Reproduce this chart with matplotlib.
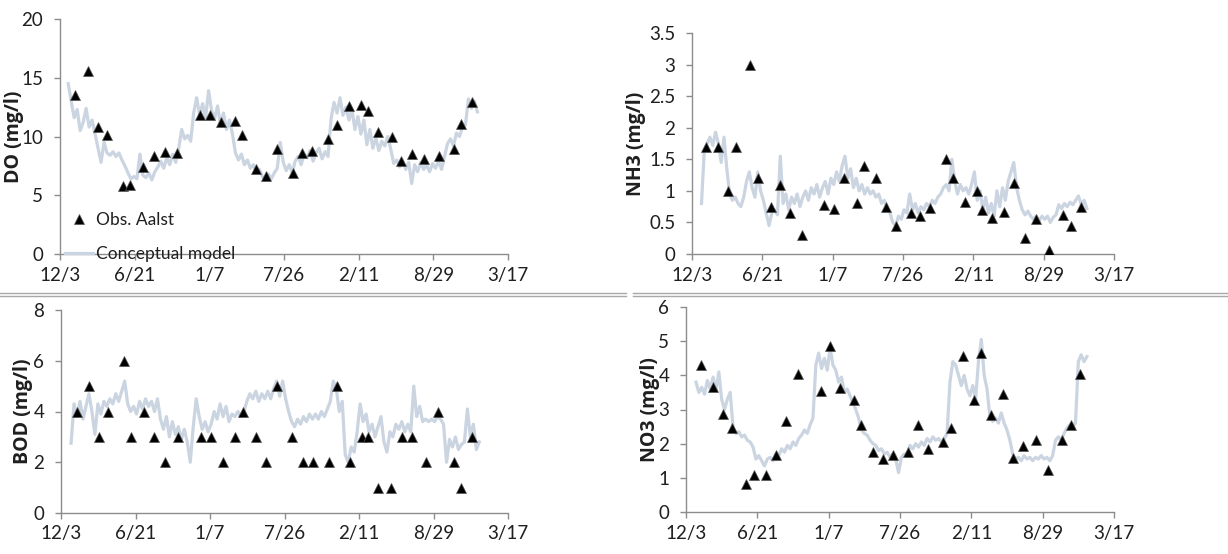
import matplotlib
matplotlib.use("Agg")
import matplotlib.pyplot as plt
from matplotlib.lines import Line2D
import numpy as np
import pandas as pd

plt.rcParams['font.family'] = ['Lato', 'DejaVu Sans']

# ---- time axis -------------------------------------------------------------
START = pd.Timestamp("2005-12-03")
END = pd.Timestamp("2009-03-17")
TICK_STEP_DAYS = 200
MODEL_STEP_DAYS = 8

# ---- DO ---------------------------------------------------------------------
do_obs_days = [41, 76, 103, 125, 168, 187, 223, 252, 280, 314, 375, 402, 432, 469,
               488, 524, 551, 580, 623, 648, 674, 718, 741, 774, 807, 825, 852, 888,
               914, 944, 975, 1014, 1055, 1075, 1103]
do_obs = [13.5, 15.6, 10.8, 10.1, 5.8, 5.9, 7.4, 8.3, 8.7, 8.6, 11.8, 11.8, 11.2, 11.3,
          10.1, 7.2, 6.6, 8.9, 6.9, 8.6, 8.8, 9.8, 11.0, 12.6, 12.7, 12.2, 10.4, 10.0,
          7.9, 8.5, 8.1, 8.3, 8.9, 11.1, 12.9]
do_model_start = 22
do_model = [14.5, 13.0, 11.6, 12.3, 10.5, 11.2, 12.4, 10.8, 11.4, 10.2,
            9.0, 7.8, 9.5, 8.6, 8.4, 8.7, 8.3, 8.6, 8.0, 7.5,
            6.9, 6.4, 6.6, 6.4, 8.5, 6.7, 6.5, 6.9, 6.3, 7.0,
            7.4, 7.9, 7.3, 8.2, 7.6, 8.5, 7.8, 9.0, 10.6, 9.8,
            10.1, 9.6, 12.0, 13.3, 11.8, 12.8, 11.6, 13.9, 12.2, 11.5,
            12.6, 11.0, 12.0, 10.6, 11.4, 10.2, 8.6, 8.0, 8.5, 7.6,
            8.0, 7.3, 7.6, 7.0, 7.2, 6.6, 6.3, 6.8, 6.4, 6.9,
            7.3, 9.5, 7.8, 7.1, 7.6, 6.9, 7.9, 8.3, 7.6, 8.5,
            8.2, 8.8, 7.9, 8.6, 9.0, 8.1, 8.7, 8.3, 11.5, 12.9,
            12.0, 13.3, 11.8, 12.5, 11.4, 12.3, 10.6, 11.7, 10.2, 11.4,
            9.3, 10.6, 9.0, 9.9, 8.8, 9.6, 9.2, 10.0, 8.9, 7.7,
            8.0, 7.4, 7.9, 7.2, 7.8, 6.0, 7.6, 7.0, 7.8, 7.2,
            7.6, 7.0, 7.7, 7.3, 7.9, 7.2, 8.3, 9.4, 9.8, 9.2,
            10.3, 10.0, 10.8, 11.0, 13.2, 12.4, 13.0, 12.1]

# ---- NH3 --------------------------------------------------------------------
nh3_obs_days = [39, 74, 102, 126, 166, 187, 224, 249, 279, 312, 376, 404, 433, 469,
                489, 523, 551, 580, 623, 649, 678, 722, 741, 775, 810, 825, 854, 888,
                915, 946, 978, 1014, 1056, 1078, 1106]
nh3_obs = [1.7, 1.7, 1.0, 1.7, 3.0, 1.2, 0.75, 1.1, 0.65, 0.3, 0.78, 0.72, 1.2, 0.8,
           1.4, 1.2, 0.75, 0.45, 0.65, 0.6, 0.73, 1.5, 1.2, 0.82, 1.0, 0.7, 0.57, 0.67,
           1.13, 0.26, 0.56, 0.07, 0.61, 0.44, 0.74]
nh3_model_start = 27
nh3_model = [0.80, 1.65, 1.75, 1.85, 1.72, 1.93, 1.75, 1.45, 1.85, 1.35,
             0.95, 0.85, 0.90, 0.80, 0.75, 0.90, 1.15, 1.30, 1.05, 0.90,
             1.30, 1.00, 0.85, 0.65, 0.45, 0.65, 0.70, 0.62, 1.55, 0.80,
             0.95, 0.70, 0.90, 0.80, 0.95, 0.75, 0.90, 1.00, 0.85, 1.05,
             0.95, 1.10, 0.90, 1.05, 1.15, 0.95, 1.20, 1.10, 1.30, 1.15,
             1.40, 1.55, 1.20, 1.35, 1.05, 1.20, 1.00, 1.10, 0.95, 1.05,
             0.95, 1.00, 0.90, 0.95, 0.80, 0.85, 0.72, 0.65, 0.50, 0.45,
             0.60, 0.55, 0.70, 0.65, 0.95, 0.70, 0.80, 0.65, 0.75, 0.70,
             0.80, 0.75, 0.85, 0.80, 0.90, 0.95, 1.05, 1.10, 1.00, 1.50,
             1.15, 0.95, 1.10, 1.00, 1.05, 0.95, 1.10, 1.30, 0.85, 1.00,
             0.70, 0.90, 0.65, 0.80, 0.60, 1.00, 0.75, 1.05, 0.85, 1.15,
             1.30, 1.45, 1.05, 0.85, 0.70, 0.62, 0.68, 0.60, 0.55, 0.60,
             0.52, 0.60, 0.55, 0.60, 0.50, 0.58, 0.62, 0.78, 0.72, 0.80,
             0.75, 0.82, 0.78, 0.85, 0.92, 0.78, 0.85, 0.72]

# ---- BOD --------------------------------------------------------------------
bod_obs_days = [42, 75, 102, 125, 169, 189, 224, 249, 278, 315, 376, 404, 434, 468,
                489, 523, 550, 579, 621, 650, 677, 720, 740, 775, 807, 824, 851, 887,
                916, 942, 979, 1013, 1054, 1075, 1103]
bod_obs = [4, 5, 3, 4, 6, 3, 4, 3, 2, 3, 3, 3, 2, 3,
           4, 3, 2, 5, 3, 2, 2, 2, 5, 2, 3, 3, 1, 1,
           3, 3, 2, 4, 2, 1, 3]
bod_model_start = 27
bod_model = [2.75, 4.30, 3.80, 4.40, 3.70, 4.20, 4.70, 4.00, 3.10, 4.30,
             3.90, 4.40, 4.20, 4.50, 4.30, 4.70, 4.40, 4.80, 5.20, 4.30,
             4.00, 4.20, 3.90, 4.40, 4.10, 4.50, 4.20, 4.40, 4.00, 4.50,
             3.70, 3.30, 3.80, 3.00, 3.60, 3.10, 3.40, 2.90, 3.30, 2.80,
             2.00, 3.40, 4.50, 3.80, 3.30, 3.60, 3.20, 3.50, 4.00, 3.70,
             4.30, 3.80, 4.20, 3.60, 3.90, 3.80, 4.00, 3.80, 4.00, 4.40,
             4.70, 4.50, 4.80, 4.40, 4.70, 4.50, 4.80, 4.50, 4.90, 5.20,
             4.60, 5.20, 4.50, 4.00, 3.60, 3.40, 3.70, 3.50, 3.80, 3.60,
             3.90, 3.70, 3.90, 3.70, 4.00, 3.80, 4.10, 4.40, 5.20, 4.90,
             4.00, 4.40, 2.30, 2.00, 2.60, 2.40, 3.20, 4.30, 3.60, 3.90,
             3.20, 3.50, 3.00, 3.40, 3.80, 2.80, 2.40, 3.20, 3.00, 3.50,
             3.30, 3.60, 3.20, 3.50, 3.20, 5.00, 3.80, 4.20, 3.60, 3.70,
             3.60, 3.70, 3.60, 3.80, 3.70, 3.50, 2.00, 2.90, 2.60, 3.00,
             2.50, 2.70, 2.80, 4.10, 3.00, 3.50, 2.50, 2.80]

# ---- NO3 --------------------------------------------------------------------
no3_obs_days = [42, 77, 105, 128, 167, 192, 223, 251, 280, 315, 379, 405, 433, 470,
                490, 523, 553, 581, 623, 651, 679, 721, 742, 776, 808, 826, 855, 890,
                918, 946, 980, 1014, 1055, 1079, 1105]
no3_obs = [4.3, 3.65, 2.87, 2.45, 0.83, 1.07, 1.07, 1.66, 2.65, 4.05, 3.55, 4.85, 3.63, 3.29,
           2.54, 1.76, 1.55, 1.66, 1.76, 2.55, 1.84, 2.06, 2.45, 4.58, 3.27, 4.65, 2.85, 3.44,
           1.58, 1.94, 2.10, 1.24, 2.10, 2.55, 4.05]
no3_model_start = 28
no3_model = [3.80, 3.50, 3.65, 3.45, 3.85, 3.60, 3.95, 3.55, 4.10, 3.30,
             3.00, 3.30, 3.50, 2.45, 2.30, 2.35, 2.20, 2.25, 2.10, 2.05,
             1.90, 1.55, 1.65, 1.50, 1.35, 1.55, 1.60, 1.50, 1.70, 1.65,
             1.85, 1.75, 1.95, 1.85, 2.05, 1.95, 2.15, 2.25, 2.40, 2.30,
             2.55, 2.75, 4.30, 4.65, 4.20, 4.50, 4.15, 4.80, 4.30, 4.15,
             3.80, 3.95, 3.50, 3.60, 3.40, 3.20, 3.00, 2.75, 2.40, 2.30,
             2.25, 2.10, 2.00, 1.95, 1.80, 1.85, 1.70, 1.75, 1.60, 1.70,
             1.55, 1.15, 1.60, 1.70, 1.65, 1.95, 1.85, 2.00, 1.90, 2.05,
             1.95, 2.15, 2.05, 2.20, 2.10, 2.15, 2.05, 2.15, 2.30, 3.80,
             4.40, 4.30, 4.00, 3.70, 4.00, 3.60, 3.40, 3.70, 3.30, 4.40,
             5.05, 4.00, 3.60, 2.80, 2.65, 2.75, 2.60, 2.90, 2.60, 2.40,
             2.10, 1.70, 1.55, 1.60, 1.50, 1.65, 1.55, 1.60, 1.50, 1.60,
             1.55, 1.65, 1.55, 1.60, 1.50, 1.65, 2.10, 2.20, 2.10, 2.30,
             2.45, 2.55, 2.50, 2.60, 4.40, 4.60, 4.40, 4.55]

# ---- styling ---------------------------------------------------------------
MODEL_COLOR = "#CBD4E1"
AXIS_COLOR = "#8C8C8C"
TEXT_COLOR = "#1F1F1F"
TICK_FS = 13.5
LEGEND_FS = 12.5
LABEL_FS = 14
LABEL_FONT = ['Open Sans', 'DejaVu Sans']

panels = [
    # y label, obs days, obs, model start, model, y max, y step, pixel box, label x
    ("DO (mg/l)", do_obs_days, do_obs, do_model_start, do_model, 20, 5,
     [60, 19, 508, 254], -0.103),
    ("NH3 (mg/l)", nh3_obs_days, nh3_obs, nh3_model_start, nh3_model, 3.5, 0.5,
     [692, 33, 1114, 254], -0.132),
    ("BOD (mg/l)", bod_obs_days, bod_obs, bod_model_start, bod_model, 8, 2,
     [61, 310, 508, 513], -0.085),
    ("NO3 (mg/l)", no3_obs_days, no3_obs, no3_model_start, no3_model, 6, 1,
     [686, 307, 1114, 512], -0.083),
]

W, H = 1228, 554
fig = plt.figure(figsize=(W / 100, H / 100), dpi=100)

tick_dates = pd.date_range(START, END, freq=f"{TICK_STEP_DAYS}D")
axes = []
for (label, odays, ovals, mstart, mvals, ymax, ystep, rect, lx) in panels:
    x0, y0, x1, y1 = rect
    ax = fig.add_axes([x0 / W, 1 - y1 / H, (x1 - x0) / W, (y1 - y0) / H])
    axes.append(ax)
    model_dates = START + pd.to_timedelta(mstart + MODEL_STEP_DAYS * np.arange(len(mvals)), unit="D")
    obs_dates = START + pd.to_timedelta(np.array(odays), unit="D")
    ax.plot(model_dates, mvals, color=MODEL_COLOR, lw=2.3, solid_joinstyle="round",
            zorder=2, label="Conceptual model")
    ax.plot(obs_dates, ovals, linestyle="none", marker="^", ms=7.5, mfc="black",
            mec="#555555", mew=0.5, zorder=3, label="Obs. Aalst")
    ax.set_xlim(START, END)
    ax.set_ylim(0, ymax)
    ax.set_yticks(np.arange(0, ymax + ystep / 2, ystep))
    ax.yaxis.set_major_formatter(plt.FuncFormatter(lambda v, p: f"{v:g}"))
    ax.set_xticks(tick_dates)
    ax.set_xticklabels([f"{d.month}/{d.day}" for d in tick_dates])
    for side in ("top", "right"):
        ax.spines[side].set_visible(False)
    for side in ("left", "bottom"):
        ax.spines[side].set_color(AXIS_COLOR)
        ax.spines[side].set_linewidth(1.0)
    ax.tick_params(axis="both", colors=AXIS_COLOR, labelcolor=TEXT_COLOR,
                   labelsize=TICK_FS, length=4, width=1.0, direction="out")
    ax.tick_params(axis="x", pad=5)
    ax.tick_params(axis="y", pad=8)
    ax.set_ylabel(label, fontsize=LABEL_FS, fontweight="bold", color=TEXT_COLOR,
                  family=LABEL_FONT, va="center")
    ax.yaxis.set_label_coords(lx, 0.5)
    ax.patch.set_alpha(0)

# legend in the DO panel
h_model = Line2D([], [], color=MODEL_COLOR, lw=2.3)
h_obs = Line2D([], [], linestyle="none", marker="^", ms=7.5, mfc="black",
               mec="#555555", mew=0.5)
axes[0].legend([h_obs, h_model], ["Obs. Aalst", "Conceptual model"],
               loc="lower left", bbox_to_anchor=(0.012, -0.035), frameon=False,
               fontsize=LEGEND_FS, handlelength=1.6, handletextpad=0.15,
               labelspacing=1.05, borderpad=0.0, borderaxespad=0.0,
               labelcolor=TEXT_COLOR)

# double separator rules under the upper charts
SEP = "#A8A8A8"
for ypix in (293, 296.5):
    yf = 1 - ypix / H
    fig.add_artist(Line2D([0, 626 / W], [yf, yf], color=SEP, lw=1.0))
    fig.add_artist(Line2D([633 / W, 1], [yf, yf], color=SEP, lw=1.0))

fig.savefig("out.png", dpi=100)
